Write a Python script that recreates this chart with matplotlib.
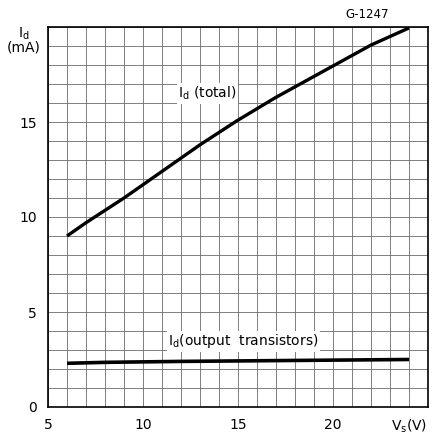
import matplotlib
matplotlib.use("Agg")
import matplotlib.pyplot as plt
from matplotlib.ticker import MultipleLocator

vs = [6, 7, 8, 9, 10, 11, 12, 13, 14, 15, 16, 17, 18, 19, 20, 21, 22, 23, 24]
id_total = [9.0, 9.7, 10.35, 11.0, 11.7, 12.4, 13.1, 13.8, 14.45, 15.1, 15.7,
            16.3, 16.85, 17.4, 17.95, 18.5, 19.05, 19.5, 19.95]
vs_out = [6, 8, 12, 18, 24]
id_out = [2.3, 2.35, 2.4, 2.45, 2.5]
xticks = [5, 10, 15, 20]
yticks = [0, 5, 10, 15]

plt.rcParams['font.family'] = ['DejaVu Sans']
fig = plt.figure(figsize=(4.32, 4.37), dpi=100)
ax = fig.add_axes([48/432, 30/437, 380/432, 380/437])
ax.set_xlim(5, 25)
ax.set_ylim(0, 20)
ax.xaxis.set_minor_locator(MultipleLocator(1))
ax.yaxis.set_minor_locator(MultipleLocator(1))
ax.set_xticks(xticks)
ax.set_yticks(yticks)
ax.grid(True, which='both', color='#6a6a6a', lw=0.6)
ax.tick_params(which='both', length=0, labelsize=10, pad=8)
for s in ax.spines.values():
    s.set_linewidth(1.2)

ax.plot(vs, id_total, color='black', lw=2.4, solid_capstyle='butt')
ax.plot(vs_out, id_out, color='black', lw=2.6, solid_capstyle='butt')

box = dict(facecolor='white', edgecolor='none', pad=1.0)
ax.text(13.4, 16.5, r'$\mathregular{I_d}$ (total)', fontsize=10, ha='center',
        va='center', bbox=box)
ax.text(15.3, 3.45, r'$\mathregular{I_d}$(output  transistors)', fontsize=10,
        ha='center', va='center', bbox=box)
fig.text(367/432, 1 - 14/437, 'G-1247', fontsize=8.5, ha='center', va='center')
fig.text(24/432, 1 - 40/437, r'$\mathregular{I_d}$' + '\n(mA)', fontsize=10,
         ha='center', va='center', linespacing=0.9)
fig.text(409/432, 1 - 426/437, r'$\mathregular{V_s}$(V)', fontsize=10,
         ha='center', va='center', backgroundcolor='white')

fig.savefig('out.png', dpi=100, facecolor='white')
